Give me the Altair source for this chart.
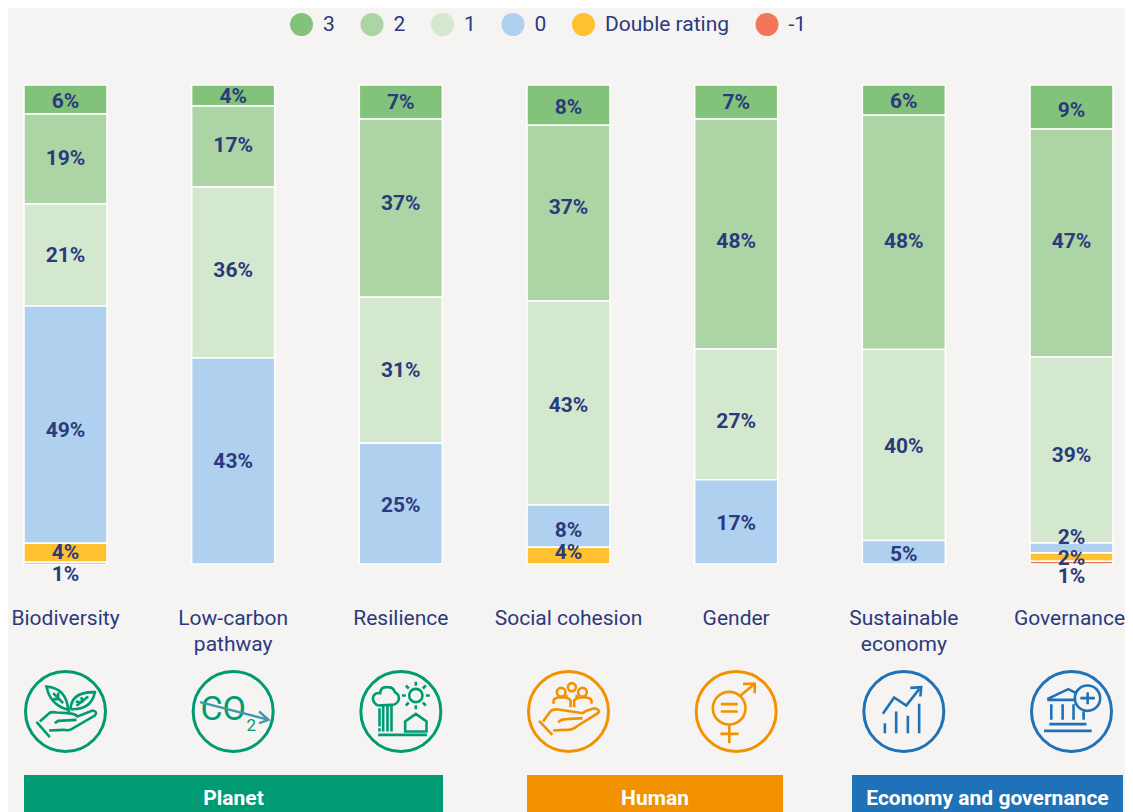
import re
import altair as alt
import pandas as pd

# ---------- data ----------
categories = ["Biodiversity", "Low-carbon\npathway", "Resilience", "Social cohesion",
              "Gender", "Sustainable\neconomy", "Governance"]
ratings = ["3", "2", "1", "0", "Double rating", "-1"]
rating_colors = ["#82c27a", "#add4a5", "#d4e8cf", "#afd0ef", "#ffc130", "#f27758"]

# segment sizes, top to bottom, one list per rating
v3 = [6.05, 4.4, 7.1, 8.4, 7.1, 6.3, 9.2]
v2 = [18.8, 16.9, 37.2, 36.7, 48.0, 48.9, 47.6]
v1 = [21.3, 35.7, 30.5, 42.6, 27.3, 39.9, 38.8]
v0 = [49.5, 43.0, 25.2, 8.8, 17.6, 4.9, 2.1]
vd = [4.0, 0, 0, 3.5, 0, 0, 1.7]
vm = [0.4, 0, 0, 0, 0, 0, 0.6]

# printed labels, same shape
l3 = ["6%", "4%", "7%", "8%", "7%", "6%", "9%"]
l2 = ["19%", "17%", "37%", "37%", "48%", "48%", "47%"]
l1 = ["21%", "36%", "31%", "43%", "27%", "40%", "39%"]
l0 = ["49%", "43%", "25%", "8%", "17%", "5%", "2%"]
ld = ["4%", "", "", "4%", "", "", "2%"]
lm = ["1%", "", "", "", "", "", "1%"]

# where each printed label sits on the 0-100 (top-down) scale
p3 = [3.3, 2.3, 3.5, 4.6, 3.5, 3.3, 5.2]
p2 = [15.2, 12.5, 24.6, 25.5, 32.6, 32.6, 32.6]
p1 = [35.5, 38.6, 59.5, 66.8, 70.1, 75.4, 77.2]
p0 = [72.0, 78.5, 87.7, 92.9, 91.4, 97.9, 94.4]
pd_ = [97.5, 0, 0, 97.5, 0, 0, 98.7]
pm = [102.1, 0, 0, 0, 0, 0, 102.5]

group_names = ["Planet", "Human", "Economy and governance"]
group_colors = ["#009a73", "#f39200", "#1f71b8"]
group_x0 = [16, 519, 844]
group_x1 = [435, 775, 1115]

NAVY = "#2b3a7c"
BG = "#f5f4f2"
FONT = "Roboto"

rows = []
series = [v3, v2, v1, v0, vd, vm]
labels = [l3, l2, l1, l0, ld, lm]
places = [p3, p2, p1, p0, pd_, pm]
for ci, cat in enumerate(categories):
    top = 0.0
    for ri, rating in enumerate(ratings):
        val = series[ri][ci]
        if val > 0:
            rows.append({"category": cat, "rating": rating, "y0": top, "y1": top + val,
                         "label": labels[ri][ci], "ly": places[ri][ci]})
        top += val
df = pd.DataFrame(rows)

x_enc = alt.X("category:N", sort=categories, axis=None,
              scale=alt.Scale(domain=categories, range=[16, 1105], paddingInner=0.505, paddingOuter=0))
y_scale = alt.Scale(domain=[0, 100], range=[77, 556], clamp=False)

bars = alt.Chart(df).mark_bar(stroke="white", strokeWidth=1.5, opacity=1).encode(
    x=x_enc,
    y=alt.Y("y0:Q", scale=y_scale, axis=None),
    y2="y1:Q",
    color=alt.Color("rating:N", scale=alt.Scale(domain=ratings, range=rating_colors),
                    legend=alt.Legend(orient="none", legendX=282, legendY=5, direction="horizontal", columns=6,
                                      title=None, symbolType="circle", symbolSize=529, symbolStrokeWidth=0,
                                      symbolOpacity=1, labelFont=FONT, labelFontSize=21, labelColor=NAVY,
                                      labelOffset=10, columnPadding=25.5, labelLimit=200)),
)

bar_text = alt.Chart(df).mark_text(font=FONT, fontSize=21, fontWeight="bold", color=NAVY, baseline="middle", dy=1).encode(
    x=x_enc, y=alt.Y("ly:Q", scale=y_scale, axis=None), text="label:N")

cat_text = alt.Chart(pd.DataFrame({"category": categories[:-1]})).mark_text(
    font=FONT, fontSize=21, color=NAVY, baseline="alphabetic", lineBreak="\n", lineHeight=26
).encode(x=x_enc, y=alt.value(617), text="category:N")
# the last label would run past the edge of the picture by a couple of pixels
cat_text_last = alt.Chart(pd.DataFrame({"category": categories[-1:]})).mark_text(
    font=FONT, fontSize=21, color=NAVY, baseline="alphabetic", dx=-2
).encode(x=x_enc, y=alt.value(617), text="category:N")


# ---------- icon glyphs: drawn in 3x-zoom units, relative to each ring's centre ----------
def shift(path, cx, cy, sx=1.0):
    nums = re.sub(r"(-?\d+(?:\.\d+)?) (-?\d+(?:\.\d+)?)",
                  lambda m: f"{(float(m.group(1)) - cx) * sx:.1f} {float(m.group(2)) - cy:.1f}", path)
    return nums


def circ(cx, cy, r):
    return f"M{cx - r} {cy}A{r} {r} 0 1 0 {cx + r} {cy}A{r} {r} 0 1 0 {cx - r} {cy}Z"


SX = 3 / 2.477
icon_leaf = shift(
    "M205 150 Q150 135 140 80 Q200 85 205 150 M160 100 L190 130 M175 98 L175 115 M160 118 L180 118 "
    "M212 148 Q215 95 285 97 Q275 150 212 148 M265 110 L230 138 M245 112 L247 130 M228 125 L245 128 M207 150 L207 165 "
    "M110 186 L150 232 M120 185 L148 160 Q155 155 170 158 L205 160 Q225 162 233 170 L278 152 Q295 155 285 167 "
    "L215 208 Q205 213 190 210 L148 212 M165 190 L175 183 L230 180", 197, 155)
icon_res = shift(
    "M1130 137 Q1112 125 1118 108 Q1125 97 1138 100 Q1140 80 1160 82 Q1178 82 1182 97 Q1198 105 1193 122 "
    "Q1185 137 1170 135 L1130 137 M1136 145 L1136 200 M1136 205 L1136 215 M1147 140 L1147 215 M1160 140 L1160 215 "
    "M1172 135 L1172 215 M1132 225 L1278 225 M1213 215 L1213 185 L1245 162 L1277 185 L1277 215 Z "
    "M1245 66 L1245 78 M1245 136 L1245 148 M1275 107 L1287 107 M1203 107 L1215 107 M1266 86 L1275 77 "
    "M1224 86 L1215 77 M1266 128 L1275 137 M1224 128 L1215 137", 1200, 155) + circ(45, -48, 20)
icon_hum = shift(
    "M133 132 L133 122 Q135 113 152 112 Q172 113 175 122 L175 142 M184 142 L184 122 Q190 113 205 112 "
    "Q225 113 227 122 L227 132 M165 105 L165 112 M190 105 L190 112 M97 183 L130 225 "
    "M107 185 L125 155 Q130 147 145 149 L205 160 Q215 150 235 145 Q250 150 243 160 L190 200 Q180 212 160 210 L132 212 "
    "M145 188 Q150 178 165 178 L205 175", 170, 155, SX) + circ(10, -73, 12) + circ(-22, -58, 13) + circ(42, -58, 13)
icon_gen = shift(
    "M548 133 L590 133 M548 155 L590 155 M569 195 L569 250 M547 222 L592 222 M597 107 L632 72 M603 72 L632 72 L632 100",
    586, 155, SX) + circ(-21, -10, 49)
icon_eco = shift(
    "M955 190 L955 220 M983 155 L983 220 M1012 168 L1012 220 M1040 132 L1040 220 M950 162 L978 113 L1008 137 L1040 88 "
    "M1018 84 L1045 82 L1043 110", 1002, 155, SX)
icon_gov = shift(
    "M1358 118 L1410 88 L1430 100 M1358 120 L1430 120 M1368 133 L1368 180 M1396 133 L1396 180 M1423 133 L1423 180 "
    "M1448 155 L1448 180 M1363 193 L1455 193 M1350 213 L1468 213 M1458 97 L1458 133 M1440 115 L1476 115",
    1418, 155, SX) + circ(48, -40, 38)
icon_arrow = shift("M598 127 L803 180 M775 155 L803 180 L775 190", 697, 155)

icon_paths = [icon_leaf, "", icon_res, icon_hum, icon_gen, icon_eco, icon_gov]
icon_colors = [group_colors[0]] * 3 + [group_colors[1]] * 2 + [group_colors[2]] * 2
ICON_Y = 703.5

layers = [bars, bar_text, cat_text, cat_text_last]
for cat, path, col in zip(categories, icon_paths, icon_colors):
    d = pd.DataFrame({"category": [cat]})
    layers.append(alt.Chart(d).mark_point(shape="circle", size=6400, filled=False, stroke=col, strokeWidth=3, opacity=1)
                  .encode(x=x_enc, y=alt.value(ICON_Y)))
    if path:
        layers.append(alt.Chart(d).mark_point(shape=path, size=4 / 9, filled=False, stroke=col, strokeWidth=2.6, opacity=1)
                      .encode(x=x_enc, y=alt.value(ICON_Y)))

# CO2 glyph
co2 = pd.DataFrame({"category": [categories[1]]})
layers.append(alt.Chart(co2).mark_text(text="CO", font=FONT, fontSize=34, color=group_colors[0], baseline="middle", dx=-10)
              .encode(x=x_enc, y=alt.value(ICON_Y - 2)))
layers.append(alt.Chart(co2).mark_text(text="2", font=FONT, fontSize=17, color=group_colors[0], baseline="middle", dx=18)
              .encode(x=x_enc, y=alt.value(ICON_Y + 14)))
layers.append(alt.Chart(co2).mark_point(shape=icon_arrow, size=4 / 9, filled=False, stroke="#3f9aa5", strokeWidth=2.4, opacity=1)
              .encode(x=x_enc, y=alt.value(ICON_Y)))

# pillar banners
for name, col, a, b in zip(group_names, group_colors, group_x0, group_x1):
    d = pd.DataFrame({"name": [name]})
    layers.append(alt.Chart(d).mark_rect(color=col).encode(
        x=alt.value(a), x2=alt.value(b), y=alt.value(767), y2=alt.value(804)))
    layers.append(alt.Chart(d).mark_text(font=FONT, fontSize=21, fontWeight="bold", color="white", baseline="middle").encode(
        x=alt.value((a + b) / 2), y=alt.value(791), text="name:N"))

chart = alt.layer(*layers).properties(
    width=1117, height=804, padding=0, background=BG,
    autosize=alt.AutoSizeParams(type="none"),
).configure_view(stroke=None)

chart.save("out.html", embed_options={"renderer": "svg", "actions": False})
